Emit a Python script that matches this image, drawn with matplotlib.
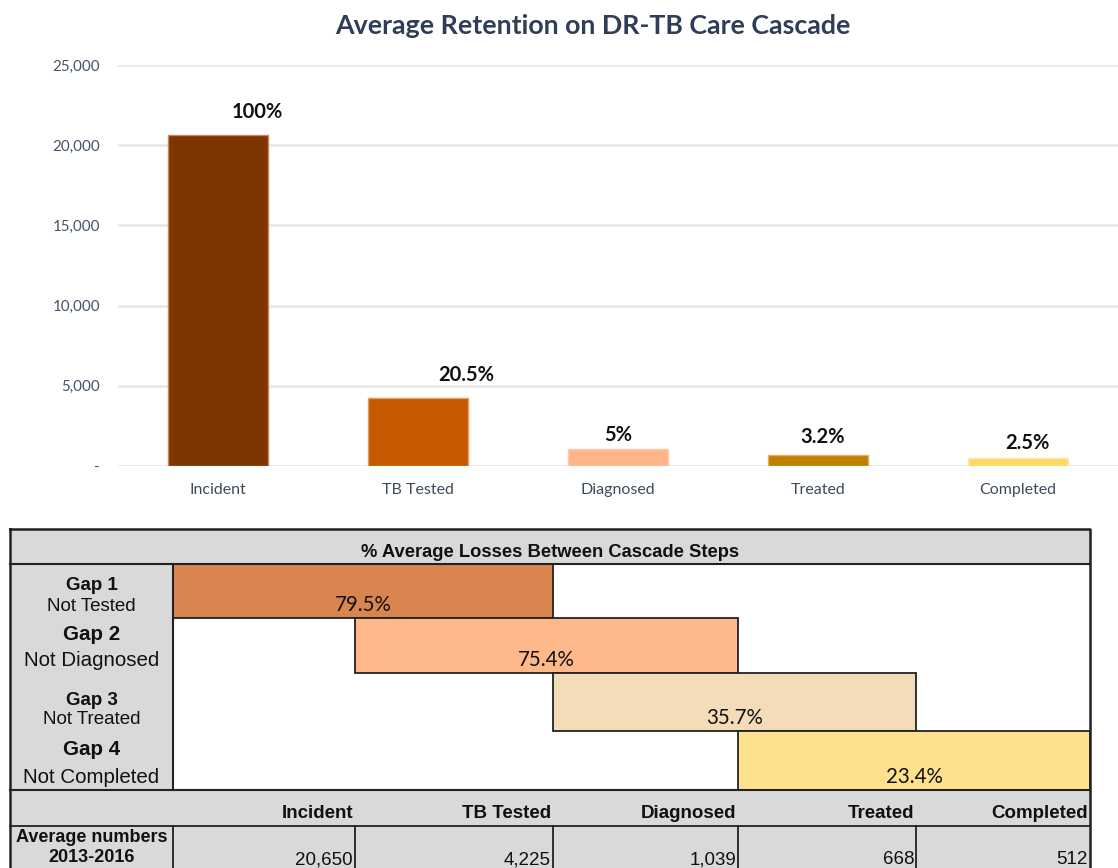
import matplotlib
matplotlib.use("Agg")
import matplotlib.pyplot as plt
from matplotlib.patches import Rectangle
from matplotlib.ticker import FuncFormatter

# ---------------- data ----------------
steps = ["Incident", "TB Tested", "Diagnosed", "Treated", "Completed"]
avg_numbers = [20650, 4225, 1039, 668, 512]
retention_labels = ["100%", "20.5%", "5%", "3.2%", "2.5%"]
gap_names = ["Gap 1", "Gap 2", "Gap 3", "Gap 4"]
gap_desc = ["Not Tested", "Not Diagnosed", "Not Treated", "Not Completed"]
gap_losses = ["79.5%", "75.4%", "35.7%", "23.4%"]
yticks = [0, 5000, 10000, 15000, 20000, 25000]
title = "Average Retention on DR-TB Care Cascade"
table_title = "% Average Losses Between Cascade Steps"
row_label = ["Average numbers", "2013-2016"]

# ---------------- style ----------------
bar_colors = ["#7F3500", "#C55A00", "#FFB48A", "#BF8000", "#FFD966"]
bar_edges = ["#C9875A", "#E89A60", "#FFCBB0", "#E0B060", "#FFE9A8"]
gap_colors = ["#D9854F", "#FDB98A", "#F4DCB8", "#FFE08F"]
label_off_pts = [(28, 16.5), (35, 16.5), (0, 10), (3, 13.5), (6.5, 11)]
gap_label_sizes = [13.5, 14.8, 13.5, 14.8]
gap_name_pos = [0.40, 0.30, 0.47, 0.32]
gap_desc_pos = [0.78, 0.78, 0.81, 0.78]
CHART_FONT = ["Lato", "DejaVu Sans"]
ARIAL = ["Liberation Sans", "DejaVu Sans"]

W, H = 1118, 868
fig = plt.figure(figsize=(W / 100, H / 100), dpi=100)
fig.patch.set_facecolor("white")

# ---------------- table (pixel-coordinate layout axes) ----------------
tx = fig.add_axes([0, 0, 1, 1])
tx.set_xlim(0, W)
tx.set_ylim(H, 0)
tx.axis("off")

left, lab_right, right = 10, 173, 1090
col_edges = [173, 355, 553, 738, 916, 1090]
top, head_bot = 529, 564
gap_rows = [564, 618, 673, 731, 790]
steps_row_bot = 826
bottom = 872
lc = "#222222"

tx.add_patch(Rectangle((left, top), right - left, head_bot - top, fc="#D9D9D9", ec="none"))
tx.add_patch(Rectangle((left, head_bot), lab_right - left, gap_rows[-1] - head_bot, fc="#D9D9D9", ec="none"))
tx.add_patch(Rectangle((left, gap_rows[-1]), right - left, bottom - gap_rows[-1], fc="#D9D9D9", ec="none"))

for i in range(len(gap_losses)):
    x0, x1 = col_edges[i], col_edges[i + 2]
    y0, y1 = gap_rows[i], gap_rows[i + 1]
    tx.add_patch(Rectangle((x0, y0), x1 - x0, y1 - y0, fc=gap_colors[i], ec=lc, lw=1.3))
    tx.text((x0 + x1) / 2, y1 - 13, gap_losses[i], ha="center", va="center",
            fontsize=14.8, family=CHART_FONT, color="#111111")
    h = y1 - y0
    tx.text((left + lab_right) / 2, y0 + gap_name_pos[i] * h, gap_names[i], ha="center", va="center",
            fontsize=gap_label_sizes[i], fontweight="bold", family=ARIAL, color="#111111")
    tx.text((left + lab_right) / 2, y0 + gap_desc_pos[i] * h, gap_desc[i], ha="center", va="center",
            fontsize=gap_label_sizes[i], family=ARIAL, color="#111111")

# borders
tx.plot([left, right, right, left, left], [top, top, bottom, bottom, top], color=lc, lw=1.8)
tx.plot([left, right], [head_bot, head_bot], color=lc, lw=1.5)
tx.plot([left, right], [gap_rows[-1], gap_rows[-1]], color=lc, lw=1.5)
tx.plot([lab_right, lab_right], [head_bot, gap_rows[-1]], color=lc, lw=1.5)
tx.plot([left, right], [steps_row_bot, steps_row_bot], color=lc, lw=1.3)
for x in col_edges[:-1]:
    tx.plot([x, x], [steps_row_bot, bottom], color=lc, lw=1.3)

tx.text((left + right) / 2, (top + head_bot) / 2 + 6, table_title, ha="center", va="center",
        fontsize=13.2, fontweight="bold", family=ARIAL, color="#111111")

for i, s in enumerate(steps):
    xr = col_edges[i + 1] - 2
    tx.text(xr, 814, s, ha="right", va="center", fontsize=13.5, fontweight="bold",
            family=ARIAL, color="#111111")
    tx.text(xr, 860, f"{avg_numbers[i]:,}", ha="right", va="center", fontsize=13.5,
            family=ARIAL, color="#111111")

tx.text((left + lab_right) / 2, 838, row_label[0], ha="center", va="center", fontsize=13,
        fontweight="bold", family=ARIAL, color="#111111")
tx.text((left + lab_right) / 2, 858, row_label[1], ha="center", va="center", fontsize=13,
        fontweight="bold", family=ARIAL, color="#111111")

# ---------------- bar chart ----------------
ax = fig.add_axes([118 / W, (H - 466) / H, 1000 / W, 401 / H])
ax.set_xlim(-0.5, len(steps) - 0.5)
ax.set_ylim(0, 25000)
xs = list(range(len(steps)))
bars = ax.bar(xs, avg_numbers, width=0.5, color=bar_colors, edgecolor=bar_edges, linewidth=1, zorder=3)
for b, lab, off in zip(bars, retention_labels, label_off_pts):
    ax.annotate(lab, (b.get_x() + b.get_width() / 2, b.get_height()), xytext=off,
                textcoords="offset points", ha="center", va="center", fontsize=14.5,
                fontweight="bold", family=CHART_FONT, color="#111111")

ax.set_yticks(yticks)
ax.yaxis.set_major_formatter(FuncFormatter(lambda v, p: "-" if v == 0 else f"{v:,.0f}"))
ax.set_xticks(xs)
ax.set_xticklabels(steps)
ax.tick_params(axis="y", length=0, pad=13, labelsize=10.9, labelcolor="#44546A")
ax.tick_params(axis="x", length=0, pad=12.5, labelsize=11.5, labelcolor="#3F4A5C")
for lbl in ax.get_xticklabels() + ax.get_yticklabels():
    lbl.set_family(CHART_FONT)
ax.grid(axis="y", color="#E6E6EC", lw=1.8, zorder=0)
ax.set_axisbelow(True)
for sp in ax.spines.values():
    sp.set_visible(False)
ax.patch.set_alpha(0)

fig.text(593 / W, 1 - 26 / H, title, ha="center", va="center", fontsize=19.3,
         fontweight="bold", family=CHART_FONT, color="#2E3D58")

fig.savefig("out.png", dpi=100)
